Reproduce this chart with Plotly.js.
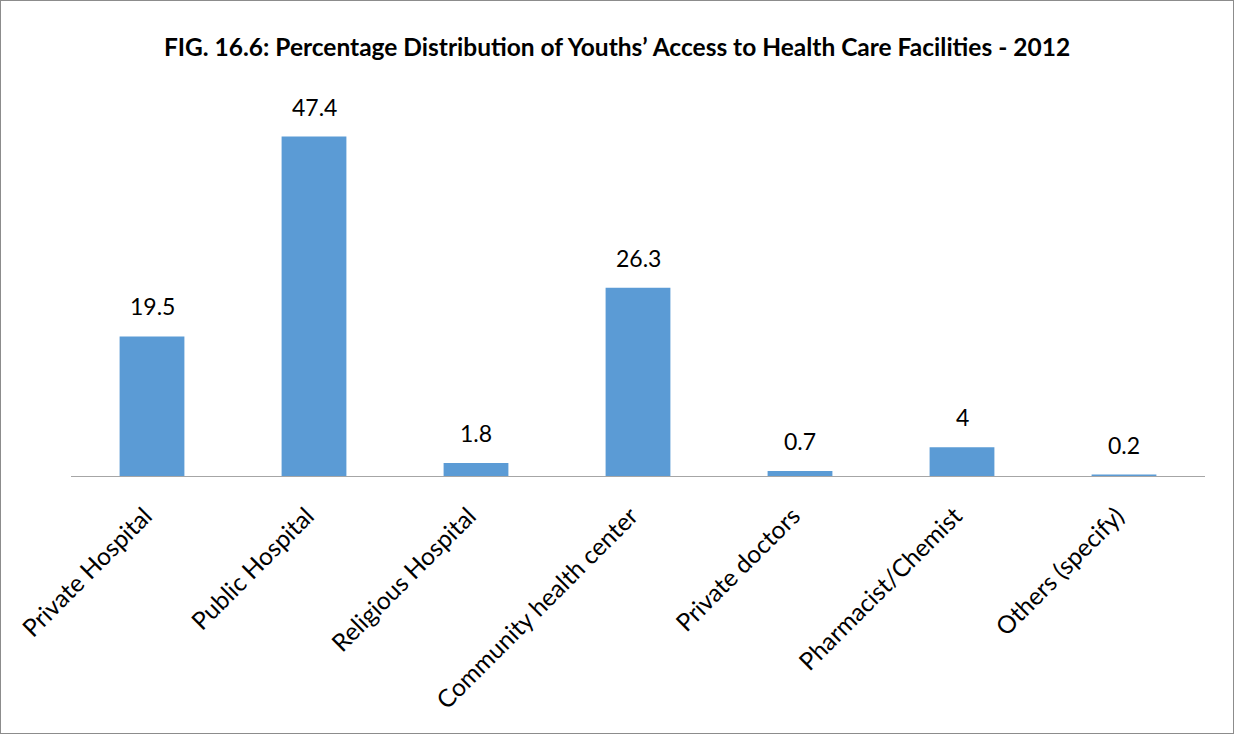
<!DOCTYPE html>
<html>
<head>
<meta charset="utf-8">
<script src="https://cdn.plot.ly/plotly-3.0.1.min.js"></script>
<style>
html,body{margin:0;padding:0;background:#fff;}
#chart{width:1234px;height:734px;box-sizing:border-box;border:1px solid #8c8c8c;}
</style>
</head>
<body>
<div id="chart"></div>
<script>
const categories = ["Private Hospital","Public Hospital","Religious Hospital","Community health center","Private doctors","Pharmacist/Chemist","Others (specify)"];
const values = [19.5, 47.4, 1.8, 26.3, 0.7, 4, 0.2];
const valueLabels = ["19.5","47.4","1.8","26.3","0.7","4","0.2"];
const titleText = "FIG. 16.6: Percentage Distribution of Youths’ Access to Health Care Facilities - 2012";

const FONT = "Lato, 'Open Sans', sans-serif";

const trace = {
  type: "bar",
  x: categories,
  y: values,
  marker: {color: "#5B9BD5"},
  width: 0.4,
  hoverinfo: "none"
};

const annotations = categories.map((c, i) => ({
  x: c, y: values[i], text: valueLabels[i],
  xref: "x", yref: "y",
  showarrow: false, yanchor: "bottom", yshift: 14,
  font: {family: FONT, size: 23, color: "#000"}
}));

const layout = {
  width: 1232, height: 732,
  margin: {l: 70, r: 28, t: 117, b: 257},
  paper_bgcolor: "#fff", plot_bgcolor: "#fff",
  showlegend: false,
  title: {
    text: "<b>" + titleText + "</b>",
    font: {family: FONT, size: 24.5, color: "#000"},
    x: 0.5, xanchor: "center",
    y: 1 - 46/732, yref: "container", yanchor: "middle"
  },
  xaxis: {
    type: "category",
    showline: true, linecolor: "#a6a6a6", linewidth: 1,
    showgrid: false, zeroline: false, ticks: "",
    tickangle: -45,
    tickfont: {family: FONT, size: 24.5, color: "#000"},
    ticklabelstandoff: 15,
    ticklabelshift: -7
  },
  yaxis: {
    range: [0, 50],
    visible: false, showgrid: false, zeroline: false
  },
  annotations: annotations
};

Plotly.newPlot("chart", [trace], layout, {displayModeBar: false, staticPlot: true});
</script>
</body>
</html>
